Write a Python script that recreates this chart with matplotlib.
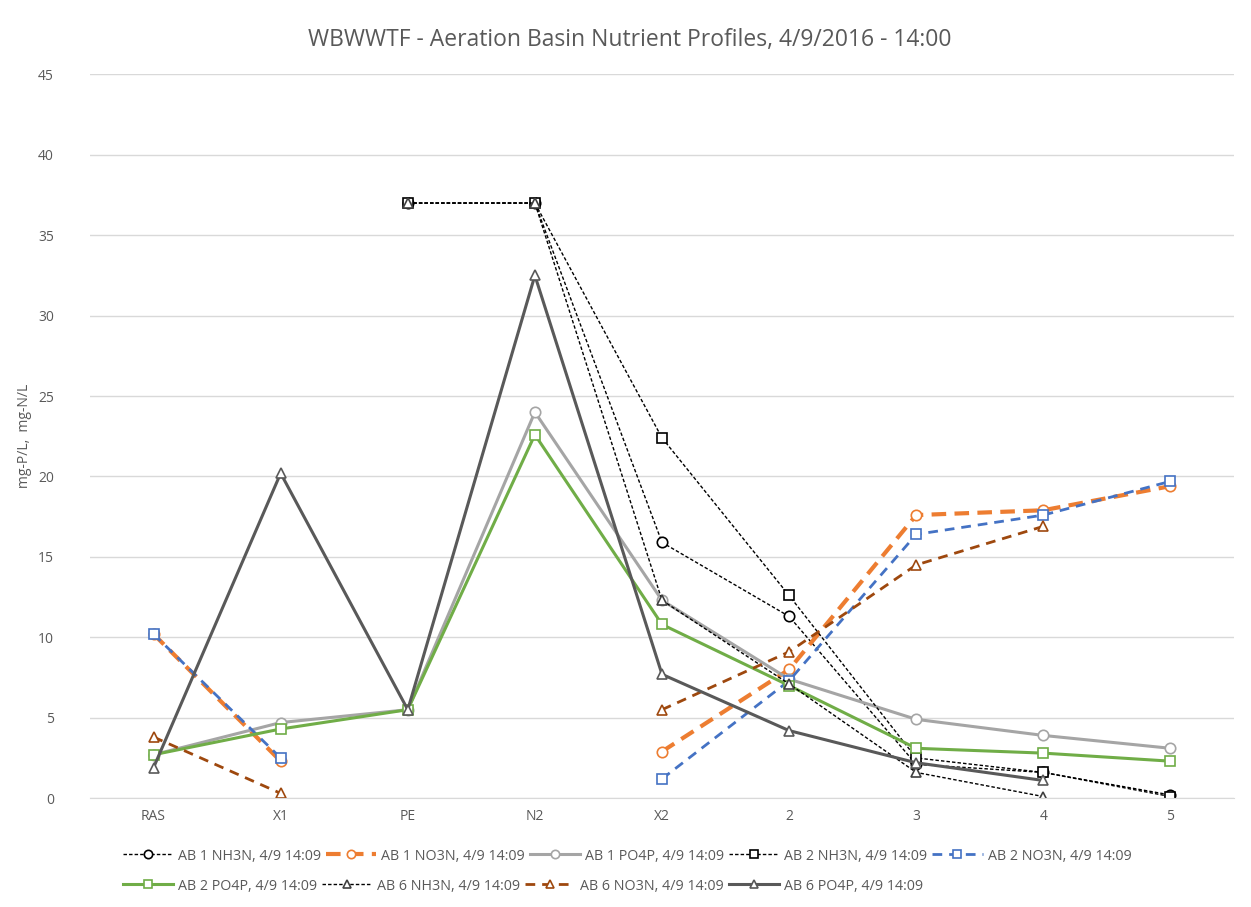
import numpy as np
import matplotlib
matplotlib.use("Agg")
import matplotlib.pyplot as plt

nan = np.nan
categories = ["RAS", "X1", "PE", "N2", "X2", "2", "3", "4", "5"]

ab1_nh3n = [nan, nan, 37.0, 37.0, 15.9, 11.3, 2.1, 1.6, 0.2]
ab1_no3n = [10.2, 2.3, nan, nan, 2.9, 8.0, 17.6, 17.9, 19.4]
ab1_po4p = [2.7, 4.7, 5.5, 24.0, 12.3, 7.4, 4.9, 3.9, 3.1]
ab2_nh3n = [nan, nan, 37.0, 37.0, 22.4, 12.6, 2.5, 1.6, 0.1]
ab2_no3n = [10.2, 2.5, nan, nan, 1.2, 7.3, 16.4, 17.6, 19.7]
ab2_po4p = [2.7, 4.3, 5.5, 22.6, 10.8, 7.0, 3.1, 2.8, 2.3]
ab6_nh3n = [nan, nan, 37.0, 37.0, 12.3, 7.1, 1.6, 0.1, nan]
ab6_no3n = [3.8, 0.3, nan, nan, 5.5, 9.1, 14.5, 16.9, nan]
ab6_po4p = [1.9, 20.2, 5.5, 32.5, 7.7, 4.2, 2.2, 1.1, nan]

labels = [
    "AB 1 NH3N, 4/9 14:09", "AB 1 NO3N, 4/9 14:09", "AB 1 PO4P, 4/9 14:09",
    "AB 2 NH3N, 4/9 14:09", "AB 2 NO3N, 4/9 14:09", "AB 2 PO4P, 4/9 14:09",
    "AB 6 NH3N, 4/9 14:09", "AB 6 NO3N, 4/9 14:09", "AB 6 PO4P, 4/9 14:09",
]
yticks = [0, 5, 10, 15, 20, 25, 30, 35, 40, 45]

plt.rcParams['font.family'] = ['Open Sans', 'DejaVu Sans']
txt = '#595959'

fig = plt.figure(figsize=(12.51, 9.07), dpi=100)
ax = fig.add_axes([90 / 1251, 0.120, 1144 / 1251, 0.798])

x = np.arange(len(categories))
series = [
    (ab1_nh3n, dict(color='black', lw=1.0, ls=(0, (2.5, 1.5)), marker='o', mec='black')),
    (ab1_no3n, dict(color='#ED7D31', lw=3.0, ls=(0, (3.5, 2)), marker='o', mec='#ED7D31')),
    (ab1_po4p, dict(color='#A5A5A5', lw=2.2, ls='-', marker='o', mec='#A5A5A5')),
    (ab2_nh3n, dict(color='black', lw=1.0, ls=(0, (2.5, 1.5)), marker='s', mec='black')),
    (ab2_no3n, dict(color='#4472C4', lw=2.0, ls=(0, (3.5, 2.5)), marker='s', mec='#4472C4')),
    (ab2_po4p, dict(color='#70AD47', lw=2.2, ls='-', marker='s', mec='#70AD47')),
    (ab6_nh3n, dict(color='black', lw=1.0, ls=(0, (2.5, 1.5)), marker='^', mec='#404040')),
    (ab6_no3n, dict(color='#9E480E', lw=2.0, ls=(0, (3.5, 2.5)), marker='^', mec='#9E480E')),
    (ab6_po4p, dict(color='#595959', lw=2.2, ls='-', marker='^', mec='#595959')),
]
handles = []
for (vals, st), lab in zip(series, labels):
    h, = ax.plot(x, vals, label=lab, markersize=7.5, mfc='white', mew=1.2, **st)
    handles.append(h)

ax.set_xlim(-0.5, 8.5)
ax.set_ylim(0, 45)
ax.set_yticks(yticks)
ax.set_xticks(x)
ax.set_xticklabels(categories)
ax.grid(axis='y', color='#D9D9D9', lw=1)
ax.set_axisbelow(True)
for s in ['top', 'right', 'left']:
    ax.spines[s].set_visible(False)
ax.spines['bottom'].set_color('#D9D9D9')
ax.tick_params(axis='both', length=0, labelsize=10, colors=txt, pad=8)
ax.tick_params(axis='y', pad=26)
ax.set_ylabel("mg-P/L,  mg-N/L", fontsize=10, color=txt, labelpad=4)
fig.text(630 / 1251, 1 - 40 / 907,
         "WBWWTF - Aeration Basin Nutrient Profiles, 4/9/2016 - 14:00",
         fontsize=16.5, color=txt, ha='center', va='center')

leg_kw = dict(loc='center left', frameon=False, fontsize=10.3, handlelength=3.5,
              handletextpad=0.35, columnspacing=0.35, borderpad=0,
              borderaxespad=0, markerscale=0.8)
leg1 = fig.legend(handles[:5], labels[:5], ncol=5,
                  bbox_to_anchor=(123 / 1251, 1 - 856 / 907), **leg_kw)
leg2 = fig.legend(handles[5:], labels[5:], ncol=4,
                  bbox_to_anchor=(123 / 1251, 1 - 886 / 907), **leg_kw)
for lg in (leg1, leg2):
    for t in lg.get_texts():
        t.set_color(txt)

fig.savefig("out.png", dpi=100)
